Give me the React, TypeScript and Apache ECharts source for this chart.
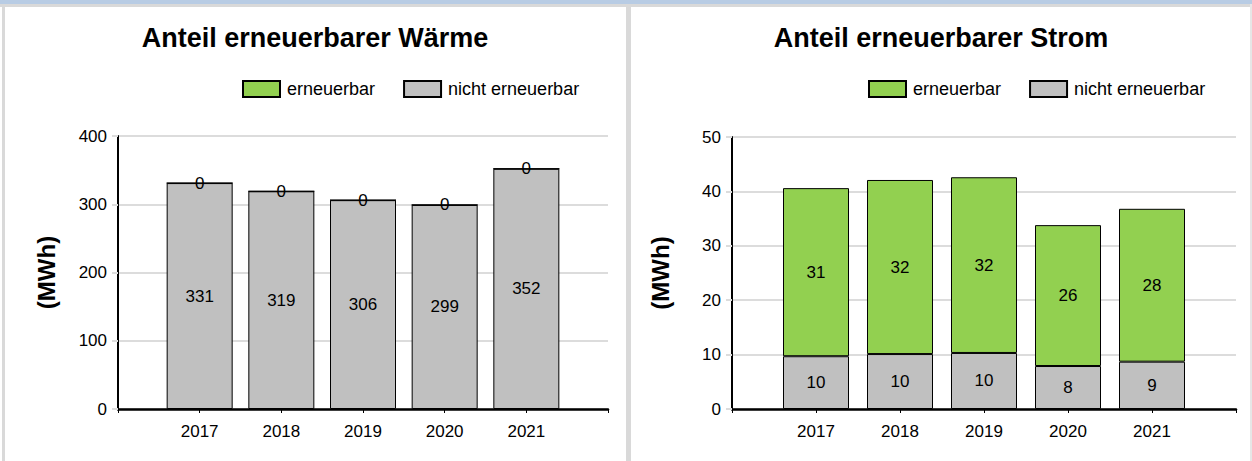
import React, { useEffect, useRef } from "react";
import * as echarts from "echarts";

const years = ["2017", "2018", "2019", "2020", "2021"];
const waermeErneuerbar = [0, 0, 0, 0, 0];
const waermeNicht = [331, 319, 306, 299, 352];
const stromErneuerbar = [30.9, 32.0, 32.3, 25.9, 28.1];
const stromNicht = [9.7, 10.1, 10.3, 7.9, 8.7];
const waermeTicks = { min: 0, max: 400, interval: 100 };
const stromTicks = { min: 0, max: 50, interval: 10 };
const legendNames = ["erneuerbar", "nicht erneuerbar"];
const titles = ["Anteil erneuerbarer Wärme", "Anteil erneuerbarer Strom"];
const unitLabel = "(MWh)";

const GREEN = "#92d050";
const GRAY = "#c0c0c0";
const FONT = "Arial, 'Liberation Sans', sans-serif";

export default function App() {
  const ref = useRef<HTMLDivElement>(null);
  useEffect(() => {
    document.body.style.margin = "0";
    const chart = echarts.init(ref.current!, undefined, { renderer: "svg" });
    // empty slots at both ends so the axis runs from one tick before 2017 to one after 2021
    const cats = ["", ...years, ""];
    const pad = (vals: number[]) => ["-", ...vals, "-"];
    const label = {
      show: true,
      position: "inside" as const,
      color: "#000",
      fontSize: 17,
      fontFamily: FONT,
      formatter: (p: any) => String(Math.round(p.value)),
    };
    const xAxis = (gi: number) => ({
      type: "category" as const,
      gridIndex: gi,
      data: cats,
      boundaryGap: false,
      axisLine: { show: true, lineStyle: { color: "#000", width: 2.5 } },
      axisTick: { show: true, interval: 0, length: 4, lineStyle: { color: "#000", width: 1 } },
      axisLabel: {
        interval: 0,
        color: "#000",
        fontSize: 17,
        fontFamily: FONT,
        margin: 14,
      },
      splitLine: { show: false },
    });
    const yAxis = (gi: number, t: any) => ({
      type: "value" as const,
      gridIndex: gi,
      min: t.min,
      max: t.max,
      interval: t.interval,
      name: unitLabel,
      nameLocation: "middle" as const,
      nameGap: 60,
      nameTextStyle: { fontSize: 24, fontWeight: "bold" as const, color: "#000", fontFamily: FONT },
      axisLine: { show: true, lineStyle: { color: "#000", width: 2 } },
      axisTick: { show: true, length: 6, lineStyle: { color: "#dcdcdc", width: 2 } },
      axisLabel: { color: "#000", fontSize: 17, fontFamily: FONT, margin: 11 },
      splitLine: { show: true, lineStyle: { color: "#dcdcdc", width: 2 } },
    });
    const bar = (name: string, gi: number, vals: number[], color: string, stack: string) => ({
      type: "bar" as const,
      name,
      xAxisIndex: gi,
      yAxisIndex: gi,
      stack,
      barWidth: 66,
      data: pad(vals),
      itemStyle: { color, borderColor: "#000", borderWidth: 1 },
      label,
    });
    const legend = (left: number) => ({
      left,
      top: 75,
      data: legendNames.map((name) => ({ name, icon: "rect" })),
      itemWidth: 37,
      itemHeight: 16,
      itemGap: 28,
      textStyle: { color: "#000", fontSize: 18, fontFamily: FONT, padding: [0, 0, 0, 2] },
      selectedMode: false,
    });
    const title = (cx: number, text: string) => ({
      text,
      left: cx,
      top: 19,
      textAlign: "center" as const,
      textStyle: { fontSize: 27, fontWeight: "bold" as const, color: "#000", fontFamily: FONT },
    });
    chart.setOption({
      animation: false,
      backgroundColor: "#fff",
      title: [title(310, titles[0]), title(936, titles[1])],
      legend: [legend(237), legend(863)],
      grid: [
        { left: 118, top: 136, width: 490, height: 273 },
        { left: 732, top: 137, width: 504, height: 272 },
      ],
      xAxis: [xAxis(0), xAxis(1)],
      yAxis: [yAxis(0, waermeTicks), yAxis(1, stromTicks)],
      series: [
        bar("nicht erneuerbar", 0, waermeNicht, GRAY, "w"),
        bar("erneuerbar", 0, waermeErneuerbar, GREEN, "w"),
        bar("nicht erneuerbar", 1, stromNicht, GRAY, "s"),
        bar("erneuerbar", 1, stromErneuerbar, GREEN, "s"),
      ],
      graphic: [
        { type: "rect", shape: { x: 0, y: 0, width: 1252, height: 4 }, style: { fill: "#b8cce4" } },
        { type: "rect", shape: { x: 0, y: 4, width: 1252, height: 3 }, style: { fill: "#d9d9d9" } },
        { type: "rect", shape: { x: 2, y: 4, width: 3, height: 457 }, style: { fill: "#d9d9d9" } },
        { type: "rect", shape: { x: 626, y: 4, width: 5, height: 457 }, style: { fill: "#d9d9d9" } },
        { type: "rect", shape: { x: 1250, y: 4, width: 2, height: 457 }, style: { fill: "#e6e6e6" } },
      ],
    });
    return () => chart.dispose();
  }, []);
  return <div ref={ref} style={{ width: 1252, height: 461 }} />;
}
